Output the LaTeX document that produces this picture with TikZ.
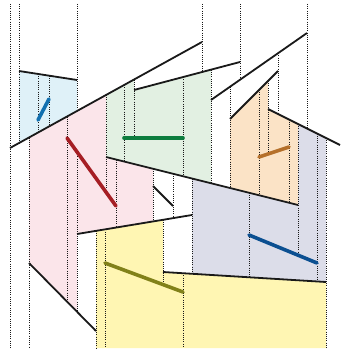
\documentclass[tikz,border=0pt]{standalone}
\usepackage{tikz}
\definecolor{faceblue}{HTML}{DFF1F8}
\definecolor{facepink}{HTML}{FBE5EA}
\definecolor{facegreen}{HTML}{E2F0E2}
\definecolor{faceorange}{HTML}{FBE3C6}
\definecolor{facelav}{HTML}{DCDDE9}
\definecolor{faceyellow}{HTML}{FFF6B3}
\definecolor{qblue}{HTML}{1270B0}
\definecolor{qred}{HTML}{A51E24}
\definecolor{qgreen}{HTML}{0D7D3E}
\definecolor{qorange}{HTML}{B5702A}
\definecolor{qnavy}{HTML}{0B4F91}
\definecolor{qolive}{HTML}{818119}
\tikzstyle{seg} = [line width=1.8pt, black!90]
\tikzstyle{query} = [line width=3.6pt, line cap=round]
\tikzstyle{wall} = [line width=0.9pt, dash pattern=on 1pt off 1.2pt, black!90]

\begin{document}
\begin{tikzpicture}[x=1pt, y=-1pt]
\useasboundingbox (0,0) rectangle (340,353);

% faces
\fill[faceblue] (19,71) -- (77,80) -- (77,111) -- (19,143) -- cycle;
\fill[facepink] (29,137.5) -- (106,95) -- (106,157) -- (153,168.75) -- (153,221.5) -- (77,234) -- (77,311.7) -- (29,263) -- cycle;
\fill[facegreen] (106,95) -- (134,79.5) -- (134,90) -- (211,69.7) -- (211,183.25) -- (106,157) -- cycle;
\fill[faceorange] (230,119) -- (268,81) -- (268,109) -- (298,124) -- (298,205) -- (230,188) -- cycle;
\fill[facelav] (192,178.5) -- (298,205) -- (298,124) -- (326,138) -- (326,282) -- (192,273.8) -- cycle;
\fill[faceyellow] (96,230.9) -- (163,219.8) -- (163,272) -- (326,282) -- (326,348) -- (96,348) -- cycle;

% vertical walls
\foreach \x/\ya/\yb in {10/4/348, 19/4/143, 29/137.5/348, 38/73.9/132.5, 49/75.7/126.5,
  67/116.5/301.6, 77/4/111, 77/152/311.7, 96/230.9/348, 105/229.4/348, 106/95/192.1,
  116/159.5/227.6, 124/85.1/161.5, 134/79.5/138, 153/168.75/221.5, 163/219.8/284.6,
  173/173.75/218.2, 183/77.1/176.25, 183/273.2/348, 192/178.5/273.8, 202/4/72,
  211/69.7/183.25, 230/86.7/188, 240/4/79.8, 249/192.75/277.3, 259/90/195.25,
  268/81/154, 278/53.2/114, 289/119.5/202.75, 298/124/255.2, 307/4/128.5,
  317/133.5/281.4, 326/138/348}
  \draw[wall] (\x,\ya) -- (\x,\yb);

% segments
\coordinate (s1a) at (19,71);   \coordinate (s1b) at (77,80);
\coordinate (s2a) at (10,148);  \coordinate (s2b) at (202,42);
\coordinate (s3a) at (134,90);  \coordinate (s3b) at (240,62);
\coordinate (s4a) at (211,100); \coordinate (s4b) at (307,33);
\coordinate (s5a) at (230,119); \coordinate (s5b) at (278,71);
\coordinate (s6a) at (268,109); \coordinate (s6b) at (340,145);
\coordinate (s7a) at (106,157); \coordinate (s7b) at (298,205);
\coordinate (s8a) at (153,186); \coordinate (s8b) at (173,206);
\coordinate (s9a) at (77,234);  \coordinate (s9b) at (192,215);
\coordinate (s10a) at (29,263); \coordinate (s10b) at (96,331);
\coordinate (s11a) at (163,272); \coordinate (s11b) at (326,282);
\foreach \s in {1,...,11}
  \draw[seg] (s\s a) -- (s\s b);

% query segments
\draw[query, qblue] (38,120) -- (49,99);
\draw[query, qred] (67,138) -- (116,206);
\draw[query, qgreen] (124,138) -- (183,138);
\draw[query, qorange] (259,157) -- (289,147);
\draw[query, qnavy] (249,235) -- (317,263);
\draw[query, qolive] (105,263) -- (183,292);

\end{tikzpicture}
\end{document}
